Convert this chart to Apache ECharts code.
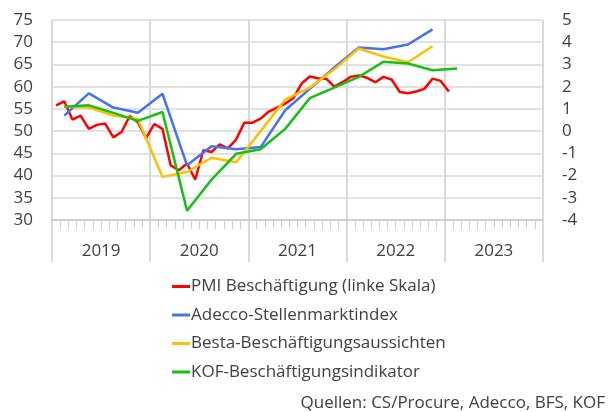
<!DOCTYPE html>
<html>
<head>
<meta charset="utf-8">
<script src="https://cdn.jsdelivr.net/npm/echarts@6/dist/echarts.min.js"></script>
<style>
  html, body { margin: 0; padding: 0; background: #fff; }
  #chart { width: 612px; height: 412px; }
</style>
</head>
<body>
<div id="chart"></div>
<script>
// Year bands shown along the time axis
const years = ['2019', '2020', '2021', '2022', '2023'];

// PMI employment (left scale), monthly from Jan 2019
const pmiStart = '2019-01';
const pmiValues = [
  55.8, 56.7, 52.6, 53.5, 50.5, 51.4, 51.7, 48.6, 49.8, 53.4, 52.0, 48.4,
  51.6, 50.5, 42.3, 41.2, 42.7, 39.1, 45.7, 45.3, 47.0, 46.1, 48.1, 51.9,
  51.9, 52.8, 54.4, 55.3, 56.2, 57.4, 60.7, 62.3, 61.9, 61.8, 60.0, 61.0,
  62.2, 62.5, 62.0, 61.0, 62.2, 61.6, 58.8, 58.5, 58.9, 59.5, 61.8, 61.3,
  58.9
];

// Quarterly indicators (right scale)
const quarters = [
  '2019Q1', '2019Q2', '2019Q3', '2019Q4',
  '2020Q1', '2020Q2', '2020Q3', '2020Q4',
  '2021Q1', '2021Q2', '2021Q3', '2021Q4',
  '2022Q1', '2022Q2', '2022Q3', '2022Q4',
  '2023Q1'
];
const adeccoValues = [0.7, 1.7, 1.06, 0.83, 1.68, -1.54, -0.68, -0.82, -0.72, 0.94, 1.9, 2.86, 3.76, 3.68, 3.9, 4.58];
const bestaValues  = [1.1, 1.06, 0.7, 0.55, -2.06, -1.84, -1.2, -1.4, 0.0, 1.42, 1.96, 2.78, 3.72, 3.36, 3.1, 3.82];
const kofValues    = [1.1, 1.16, 0.82, 0.46, 0.86, -3.58, -2.18, -1.02, -0.82, 0.1, 1.48, 1.96, 2.44, 3.12, 3.04, 2.74, 2.82];

const leftTicks = { min: 30, max: 75, step: 5 };
const rightTicks = { min: -4, max: 5, step: 1 };

const names = [
  'PMI Beschäftigung (linke Skala)',
  'Adecco-Stellenmarktindex',
  'Besta-Beschäftigungsaussichten',
  'KOF-Beschäftigungsindikator'
];
const colors = ['#ff0000', '#4472f4', '#ffc000', '#13c013'];
const sourceNote = 'Quellen: CS/Procure, Adecco, BFS, KOF';

// Month position on the axis (0 = start of Jan 2019), centred in the month
const baseYear = 2019;
function monthPos(year, monthIndex) {
  return (year - baseYear) * 12 + monthIndex + 0.5;
}
function pmiPoints() {
  const [y0, m0] = pmiStart.split('-').map(Number);
  return pmiValues.map((v, i) => {
    const m = m0 - 1 + i;
    return [monthPos(y0 + Math.floor(m / 12), m % 12), v];
  });
}
function quarterPoints(values) {
  return values.map((v, i) => {
    const [y, q] = quarters[i].split('Q').map(Number);
    return [monthPos(y, (q - 1) * 3 + 1), v];
  });
}

const FONT = 'Open Sans';
const TXT = '#404040';
const GRID = '#d9d9d9';

const chart = echarts.init(document.getElementById('chart'), null, { renderer: 'canvas' });

const lineSeries = (name, color, data, yIdx) => ({
  name, type: 'line', data,
  xAxisIndex: 0, yAxisIndex: yIdx,
  showSymbol: false, symbol: 'none',
  lineStyle: { color, width: 2.5 },
  itemStyle: { color },
  z: 5, animation: false
});

chart.setOption({
  animation: false,
  grid: { left: 52, right: 69, top: 20, bottom: 192, containLabel: false },
  legend: {
    orient: 'vertical',
    left: 167, top: 273,
    itemGap: 11.5,
    itemWidth: 18, itemHeight: 3,
    icon: 'rect',
    textStyle: { fontFamily: FONT, fontSize: 17, color: TXT, padding: [0, 0, 0, -4] },
    data: names
  },
  xAxis: [
    {
      type: 'value', min: 0, max: 60, interval: 12,
      axisLine: { show: true, onZero: false, lineStyle: { color: '#c8c8c8', width: 1.5 } },
      axisTick: { show: true, length: 42, lineStyle: { color: '#d0d0d0', width: 1.5 } },
      minorTick: { show: true, splitNumber: 12, length: 9, lineStyle: { color: '#d0d0d0', width: 1 } },
      splitLine: { show: true, lineStyle: { color: GRID, width: 2 } },
      axisLabel: { show: false }
    },
    {
      type: 'category', data: years, boundaryGap: true, position: 'bottom',
      axisLine: { show: false, onZero: false }, axisTick: { show: false }, splitLine: { show: false },
      axisLabel: { fontFamily: FONT, fontSize: 17, color: TXT, margin: 23 }
    }
  ],
  yAxis: [
    {
      type: 'value', position: 'left',
      min: leftTicks.min, max: leftTicks.max, interval: leftTicks.step,
      axisLine: { show: false }, axisTick: { show: false },
      splitLine: { show: true, lineStyle: { color: GRID, width: 1.5 } },
      axisLabel: { fontFamily: FONT, fontSize: 17, color: TXT, margin: 19 }
    },
    {
      type: 'value', position: 'right',
      min: rightTicks.min, max: rightTicks.max, interval: rightTicks.step,
      axisLine: { show: false }, axisTick: { show: false },
      splitLine: { show: false },
      axisLabel: { fontFamily: FONT, fontSize: 17, color: TXT, margin: 19 }
    }
  ],
  series: [
    lineSeries(names[0], colors[0], pmiPoints(), 0),
    lineSeries(names[1], colors[1], quarterPoints(adeccoValues), 1),
    lineSeries(names[2], colors[2], quarterPoints(bestaValues), 1),
    lineSeries(names[3], colors[3], quarterPoints(kofValues), 1)
  ],
  graphic: [{
    type: 'text', right: 7, top: 395,
    style: { text: sourceNote, font: '17px "Open Sans"', fill: TXT }
  }]
});
</script>
</body>
</html>
